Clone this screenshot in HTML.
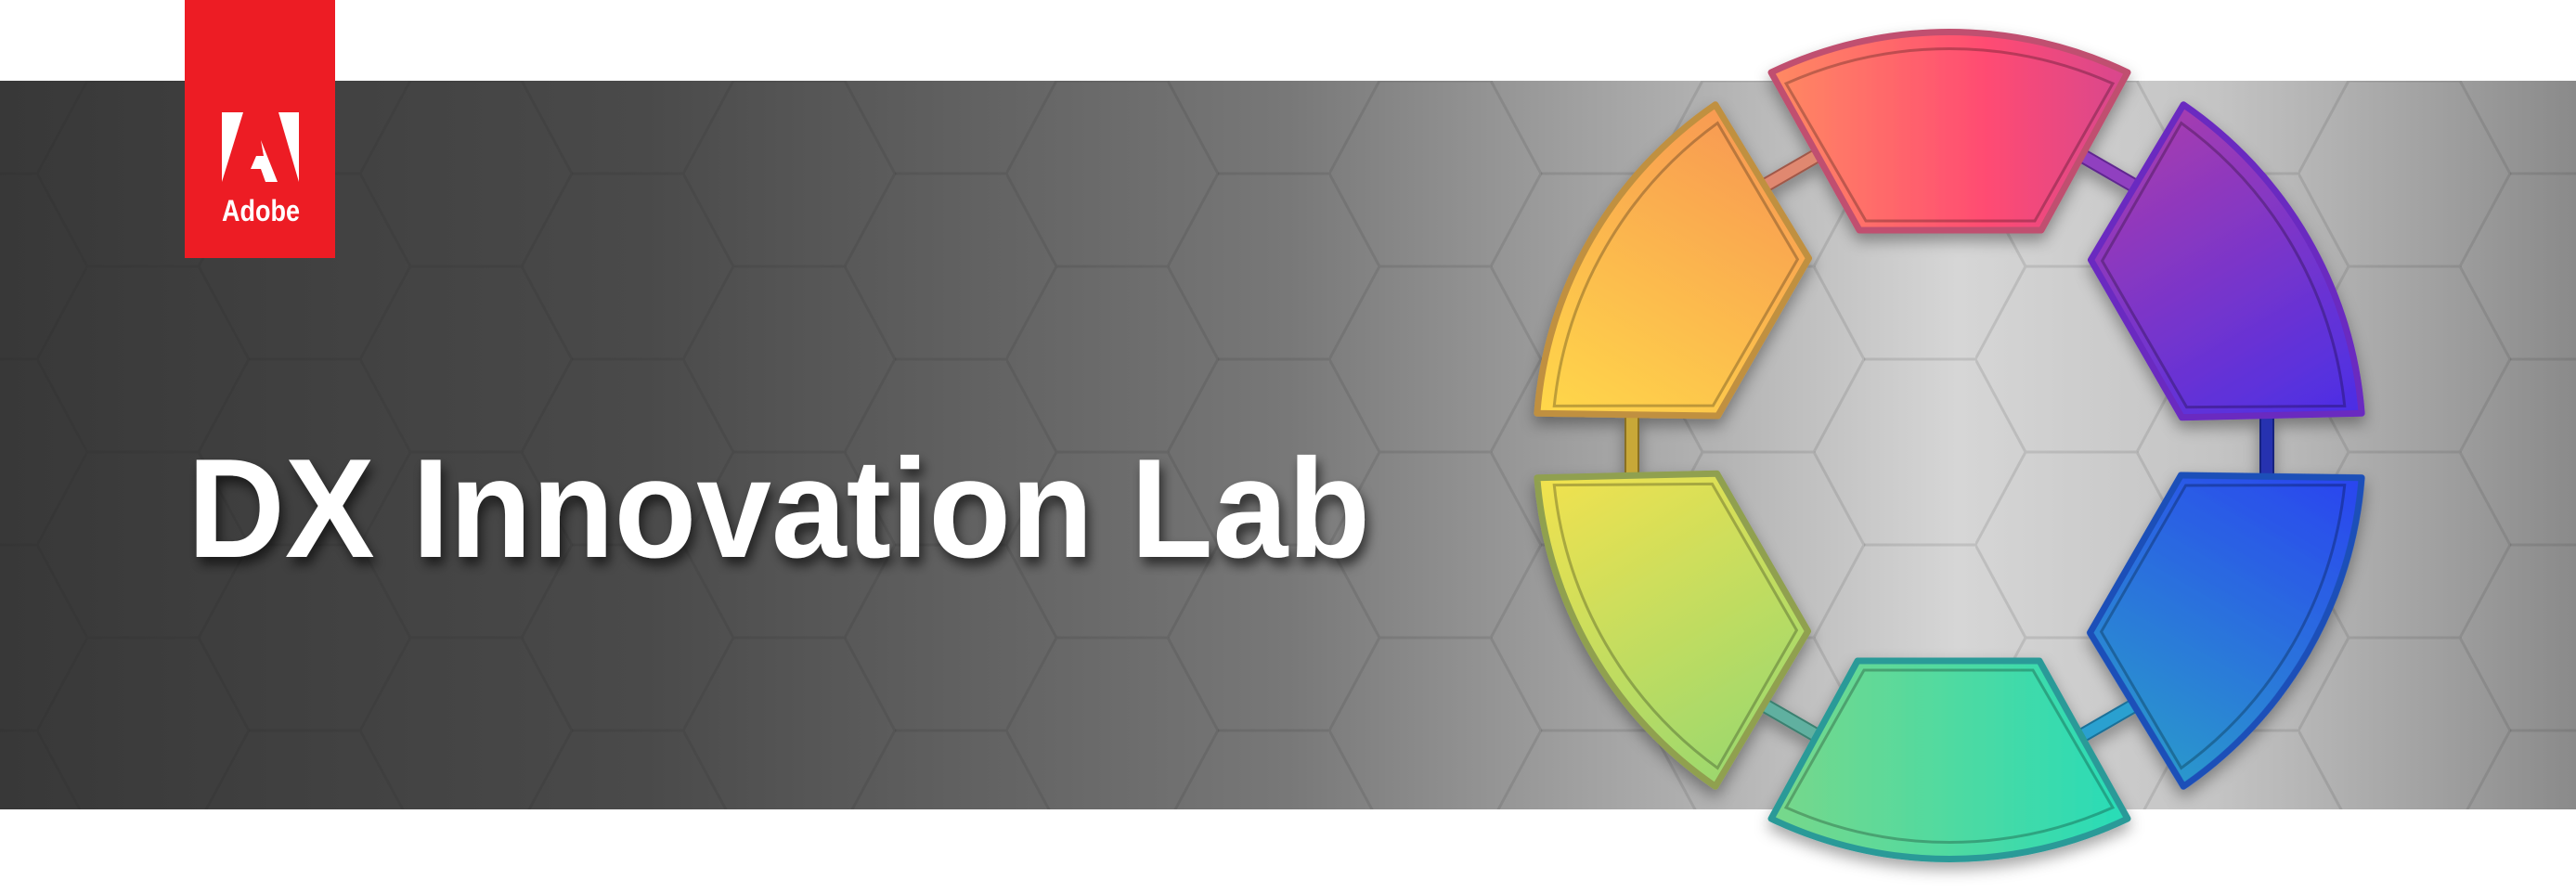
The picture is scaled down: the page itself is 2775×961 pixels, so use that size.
<!DOCTYPE html>
<html><head><meta charset="utf-8"><style>
html,body{margin:0;padding:0;background:#fff;}
body{width:2775px;height:961px;overflow:hidden;position:relative;}
</style></head><body>
<svg width="2775" height="961" viewBox="0 0 2775 961" xmlns="http://www.w3.org/2000/svg" style="position:absolute;left:0;top:0">
<defs>
<linearGradient id="bg" x1="0" y1="0" x2="1" y2="0">
<stop offset="0" stop-color="#383838"/>
<stop offset="0.25" stop-color="#4a4a4a"/>
<stop offset="0.5" stop-color="#787878"/>
<stop offset="0.68" stop-color="#b8b8b8"/>
<stop offset="0.76" stop-color="#d6d6d6"/>
<stop offset="0.86" stop-color="#c4c4c4"/>
<stop offset="1" stop-color="#8a8a8a"/>
</linearGradient>
<pattern id="hex" width="348" height="200" patternUnits="userSpaceOnUse" x="40" y="87">
<g fill="none" stroke="#222" stroke-opacity="0.12" stroke-width="3">
<path d="M54,0 L174,0 L228,100 L174,200 L54,200 L0,100 Z"/>
<path d="M228,100 L348,100 M174,0 L228,-100 M174,200 L228,300"/>
<path d="M-120,100 L0,100"/>
</g>
</pattern>
<linearGradient id="g0" x1="0" y1="0" x2="1" y2="0"><stop offset="0" stop-color="#ff8a62"/><stop offset="0.6" stop-color="#ff4c72"/><stop offset="1" stop-color="#d8468e"/></linearGradient>
<linearGradient id="g1" x1="0" y1="0" x2="1" y2="0"><stop offset="0" stop-color="#a53cb0"/><stop offset="1" stop-color="#4a2ee6"/></linearGradient>
<linearGradient id="g2" x1="0" y1="0" x2="1" y2="0"><stop offset="0" stop-color="#2a44f0"/><stop offset="1" stop-color="#2a98cc"/></linearGradient>
<linearGradient id="g3" x1="0" y1="0" x2="1" y2="0"><stop offset="0" stop-color="#28dcb8"/><stop offset="1" stop-color="#78d88a"/></linearGradient>
<linearGradient id="g4" x1="0" y1="0" x2="1" y2="0"><stop offset="0" stop-color="#9cd86e"/><stop offset="1" stop-color="#f2e24e"/></linearGradient>
<linearGradient id="g5" x1="0" y1="0" x2="1" y2="0"><stop offset="0" stop-color="#ffd84a"/><stop offset="1" stop-color="#f89a52"/></linearGradient>
<filter id="sh" x="-20%" y="-20%" width="140%" height="140%"><feDropShadow dx="0" dy="8" stdDeviation="8" flood-color="#000" flood-opacity="0.35"/></filter>
<filter id="tsh" x="-10%" y="-30%" width="120%" height="160%"><feDropShadow dx="4" dy="8" stdDeviation="6" flood-color="#000" flood-opacity="0.6"/></filter>
</defs>
<rect x="0" y="87" width="2775" height="785" fill="url(#bg)"/>
<rect x="0" y="87" width="2775" height="785" fill="url(#hex)"/>

<g transform="translate(2100,480)" filter="url(#sh)">
<g stroke-width="2">
<rect x="-349" y="-38" width="14" height="76" fill="#c8a838" stroke="#8a7020"/>
<rect x="-349" y="-38" width="14" height="76" transform="rotate(60)" fill="#e08870" stroke="#a05848"/>
<rect x="-349" y="-38" width="14" height="76" transform="rotate(120)" fill="#9040c0" stroke="#602890"/>
<rect x="-349" y="-38" width="14" height="76" transform="rotate(180)" fill="#2830b0" stroke="#182080"/>
<rect x="-349" y="-38" width="14" height="76" transform="rotate(240)" fill="#2aa0d0" stroke="#1a7098"/>
<rect x="-349" y="-38" width="14" height="76" transform="rotate(300)" fill="#60b0a0" stroke="#3a8070"/>
</g>
<g stroke-width="7" stroke-linejoin="round">
<path transform="rotate(0)" d="M-192,-402 A445,445 0 0 1 192,-402 L99,-232 L-97,-232 Z" fill="url(#g0)" stroke="#c05070"/>
<path transform="rotate(60)" d="M-192,-402 A445,445 0 0 1 192,-402 L99,-232 L-97,-232 Z" fill="url(#g1)" stroke="#6a2ac0"/>
<path transform="rotate(120)" d="M-192,-402 A445,445 0 0 1 192,-402 L99,-232 L-97,-232 Z" fill="url(#g2)" stroke="#1e50b8"/>
<path transform="rotate(180)" d="M-192,-402 A445,445 0 0 1 192,-402 L99,-232 L-97,-232 Z" fill="url(#g3)" stroke="#2a9a98"/>
<path transform="rotate(240)" d="M-192,-402 A445,445 0 0 1 192,-402 L99,-232 L-97,-232 Z" fill="url(#g4)" stroke="#90a050"/>
<path transform="rotate(300)" d="M-192,-402 A445,445 0 0 1 192,-402 L99,-232 L-97,-232 Z" fill="url(#g5)" stroke="#c09040"/>
</g>
<g fill="none" stroke="#000" stroke-opacity="0.25" stroke-width="3">
<path transform="rotate(0)" d="M-176,-390 A432,432 0 0 1 176,-390 L92,-242 L-90,-242 Z"/>
<path transform="rotate(60)" d="M-176,-390 A432,432 0 0 1 176,-390 L92,-242 L-90,-242 Z"/>
<path transform="rotate(120)" d="M-176,-390 A432,432 0 0 1 176,-390 L92,-242 L-90,-242 Z"/>
<path transform="rotate(180)" d="M-176,-390 A432,432 0 0 1 176,-390 L92,-242 L-90,-242 Z"/>
<path transform="rotate(240)" d="M-176,-390 A432,432 0 0 1 176,-390 L92,-242 L-90,-242 Z"/>
<path transform="rotate(300)" d="M-176,-390 A432,432 0 0 1 176,-390 L92,-242 L-90,-242 Z"/>
</g>
</g>

<rect x="199" y="0" width="162" height="278" fill="#ed1c24"/>
<path d="M239,121 L262,121 L239,196 Z M300,121 L322,121 L322,196 Z M281,151 L299,196 L286,196 L281,182 L270,182 L276,168 L284,168 Z" fill="#fff"/>
<text x="281" y="238" text-anchor="middle" font-family="Liberation Sans, sans-serif" font-weight="bold" font-size="32" fill="#fff" textLength="84" lengthAdjust="spacingAndGlyphs">Adobe</text>

<text x="202" y="600" font-family="Liberation Sans, sans-serif" font-weight="bold" font-size="152" fill="#fff" textLength="1274" lengthAdjust="spacingAndGlyphs" filter="url(#tsh)">DX Innovation Lab</text>
</svg>
</body></html>
